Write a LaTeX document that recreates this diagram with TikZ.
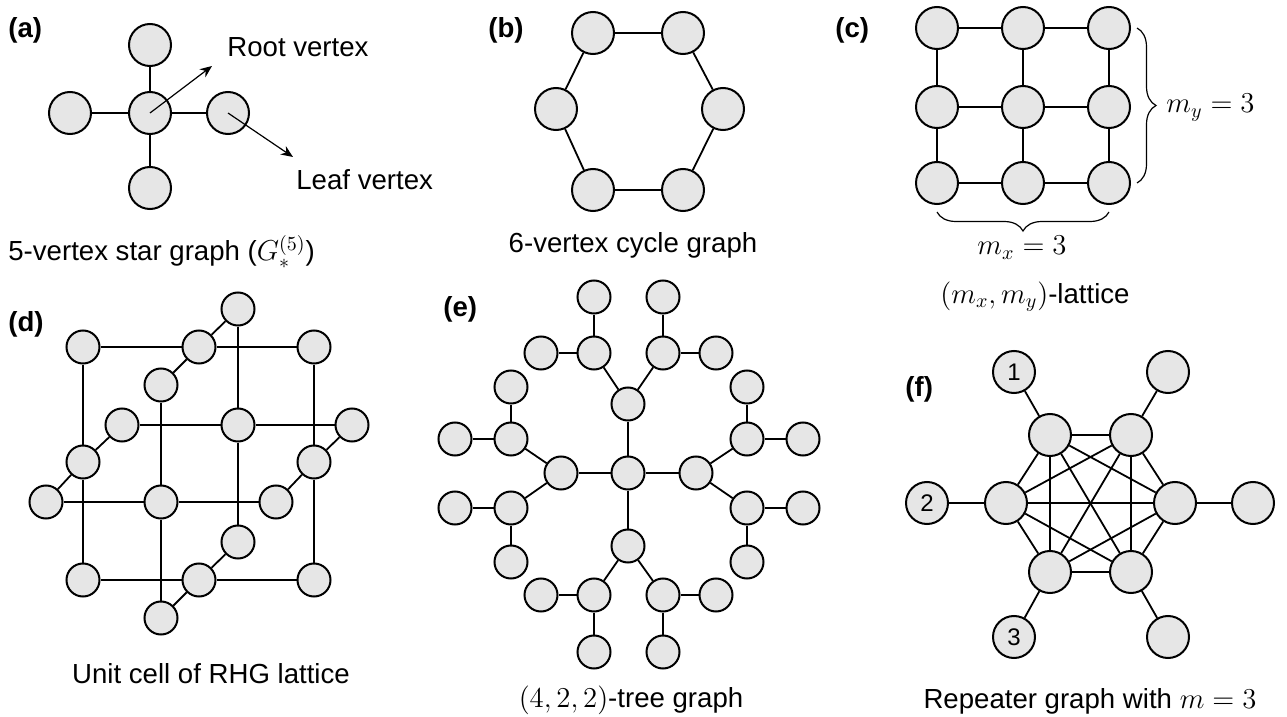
\documentclass[tikz,border=0pt]{standalone}
\usepackage{fontspec}
\setmainfont{Liberation Sans}
\usetikzlibrary{positioning, arrows.meta, decorations.pathreplacing, calc}
\definecolor{vfill}{HTML}{E6E6E6}
\tikzset{
  vtx/.style={circle, draw=black, fill=vfill, line width=1pt, inner sep=0pt, minimum size=21pt},
  svtx/.style={vtx, minimum size=16.5pt},
  edge/.style={line width=0.9pt},
  panel/.style={font=\fontsize{13.8}{16}\selectfont\bfseries, anchor=base west, inner sep=0pt},
  txt/.style={font=\fontsize{13.8}{16}\selectfont, inner sep=0pt, anchor=base},
  pointer/.style={line width=0.6pt, -{Stealth[length=6pt, width=5pt]}},
  bracket/.style={line width=0.6pt, decorate, decoration={brace, amplitude=9.5pt}},
}

\begin{document}
\begin{tikzpicture}[x=0.5pt, y=-0.5pt]
  \useasboundingbox (0,0) rectangle (1287,717);

  % (a) star graph
  \node[panel] (la) at (8,38) {(a)};
  \node[vtx] (root) at (150,113) {};
  \node[vtx] (aT) at (150,45) {};
  \node[vtx] (aB) at (150,188) {};
  \node[vtx] (aL) at (70,113) {};
  \node[vtx] (leaf) at (228,113) {};
  \foreach \v in {aT, aB, aL, leaf}
    \draw[edge] (root) -- (\v);
  \coordinate (rootend) at (212,66);
  \coordinate (leafend) at (293,157);
  \draw[pointer] (root.center) -- (rootend);
  \draw[pointer] (leaf.center) -- (leafend);
  \node[txt, anchor=base west] (troot) at (227,57) {Root vertex};
  \node[txt, anchor=base west] (tleaf) at (296,190) {Leaf vertex};
  \node[txt, anchor=base west] (ca) at (8,261) {5-vertex star graph ($G_*^{(5)}$)};

  % (b) cycle graph
  \node[panel] (lb) at (488,38) {(b)};
  \node[vtx] (b1) at (593,33) {};
  \node[vtx] (b2) at (683,33) {};
  \node[vtx] (b3) at (723,109) {};
  \node[vtx] (b4) at (683,190) {};
  \node[vtx] (b5) at (593,190) {};
  \node[vtx] (b6) at (556,109) {};
  \draw[edge] (b1) -- (b2) -- (b3) -- (b4) -- (b5) -- (b6) -- (b1);
  \node[txt] (cb) at (633,253) {6-vertex cycle graph};

  % (c) lattice
  \node[panel] (lc) at (835,38) {(c)};
  \foreach \i/\x in {1/937, 2/1023, 3/1109}
    \foreach \j/\y in {1/28, 2/107, 3/183}
      \node[vtx] (c\i\j) at (\x,\y) {};
  \foreach \i in {1,2,3} {
    \draw[edge] (c\i1) -- (c\i2) -- (c\i3);
    \draw[edge] (c1\i) -- (c2\i) -- (c3\i);
  }
  \coordinate (bry1) at (1137,28);
  \coordinate (bry2) at (1137,183);
  \coordinate (brx1) at (937,212);
  \coordinate (brx2) at (1109,212);
  \draw[bracket] (bry1) -- (bry2);
  \draw[bracket, decoration={mirror}] (brx1) -- (brx2);
  \node[txt, anchor=base west] (my) at (1166,113) {$m_y = 3$};
  \node[txt] (mx) at (1022,255) {$m_x = 3$};
  \node[txt] (cc) at (1035,303) {$(m_x, m_y)$-lattice};

  % (d) RHG unit cell
  \node[panel] (ld) at (8,331) {(d)};
  \node[svtx] (d1) at (83,347) {};
  \node[svtx] (d2) at (199,347) {};
  \node[svtx] (d3) at (314,347) {};
  \node[svtx] (d4) at (238,309) {};
  \node[svtx] (d5) at (161,385) {};
  \node[svtx] (d6) at (122,425) {};
  \node[svtx] (d7) at (238,425) {};
  \node[svtx] (d8) at (352,425) {};
  \node[svtx] (d9) at (83,462) {};
  \node[svtx] (d10) at (314,462) {};
  \node[svtx] (d11) at (46,502) {};
  \node[svtx] (d12) at (161,502) {};
  \node[svtx] (d13) at (276,502) {};
  \node[svtx] (d14) at (238,542) {};
  \node[svtx] (d15) at (83,580) {};
  \node[svtx] (d16) at (199,580) {};
  \node[svtx] (d17) at (314,580) {};
  \node[svtx] (d18) at (161,618) {};
  \draw[edge] (d1) -- (d2) -- (d3) -- (d10) -- (d17) -- (d16) -- (d15) -- (d9) -- (d1);
  \draw[edge] (d5) -- (d2) -- (d4);
  \draw[edge] (d11) -- (d9) -- (d6);
  \draw[edge] (d13) -- (d10) -- (d8);
  \draw[edge] (d18) -- (d16) -- (d14);
  \draw[edge] (d6) -- (d7) -- (d8);
  \draw[edge] (d11) -- (d12) -- (d13);
  \draw[edge] (d4) -- (d7) -- (d14);
  \draw[edge] (d5) -- (d12) -- (d18);
  \node[txt] (cd) at (211,683) {Unit cell of RHG lattice};

  % (e) tree graph
  \node[panel] (le) at (443,316) {(e)};
  \node[svtx] (e0) at (628,473) {};
  \node[svtx] (eT) at (628,404) {};
  \node[svtx] (eB) at (628,546) {};
  \node[svtx] (eL) at (561,473) {};
  \node[svtx] (eR) at (696,473) {};
  \node[svtx] (eT1) at (594,353) {};
  \node[svtx] (eT2) at (663,353) {};
  \node[svtx] (eB1) at (594,595) {};
  \node[svtx] (eB2) at (663,595) {};
  \node[svtx] (eL1) at (511,439) {};
  \node[svtx] (eL2) at (511,508) {};
  \node[svtx] (eR1) at (747,439) {};
  \node[svtx] (eR2) at (747,508) {};
  \node[svtx] (eT1a) at (541,353) {};
  \node[svtx] (eT1b) at (594,297) {};
  \node[svtx] (eT2a) at (716,353) {};
  \node[svtx] (eT2b) at (663,297) {};
  \node[svtx] (eB1a) at (541,595) {};
  \node[svtx] (eB1b) at (594,652) {};
  \node[svtx] (eB2a) at (716,595) {};
  \node[svtx] (eB2b) at (663,652) {};
  \node[svtx] (eL1a) at (455,439) {};
  \node[svtx] (eL1b) at (511,387) {};
  \node[svtx] (eL2a) at (455,508) {};
  \node[svtx] (eL2b) at (511,562) {};
  \node[svtx] (eR1a) at (803,439) {};
  \node[svtx] (eR1b) at (747,387) {};
  \node[svtx] (eR2a) at (803,508) {};
  \node[svtx] (eR2b) at (747,562) {};
  \foreach \s in {T, B, L, R} {
    \draw[edge] (e0) -- (e\s);
    \foreach \k in {1, 2} {
      \draw[edge] (e\s) -- (e\s\k);
      \draw[edge] (e\s\k) -- (e\s\k a);
      \draw[edge] (e\s\k) -- (e\s\k b);
    }
  }
  \node[txt] (ce) at (631,707) {$(4, 2, 2)$-tree graph};

  % (f) repeater graph
  \node[panel] (lf) at (905,396) {(f)};
  \node[vtx] (h1) at (1050,435) {};
  \node[vtx] (h2) at (1131,435) {};
  \node[vtx] (h3) at (1175,503) {};
  \node[vtx] (h4) at (1131,572) {};
  \node[vtx] (h5) at (1050,572) {};
  \node[vtx] (h6) at (1006,503) {};
  \node[vtx, font=\fontsize{12}{14}\selectfont] (o1) at (1014,372) {1};
  \node[vtx] (o2) at (1168,372) {};
  \node[vtx] (o3) at (1253,503) {};
  \node[vtx] (o4) at (1168,637) {};
  \node[vtx, font=\fontsize{12}{14}\selectfont] (o5) at (1014,637) {3};
  \node[vtx, font=\fontsize{12}{14}\selectfont] (o6) at (927,503) {2};
  \foreach \i in {1,...,5} {
    \pgfmathtruncatemacro\nxt{\i+1}
    \foreach \j in {\nxt,...,6}
      \draw[edge] (h\i) -- (h\j);
  }
  \foreach \i in {1,...,6}
    \draw[edge] (h\i) -- (o\i);
  \node[txt] (cf) at (1090,708) {Repeater graph with $m = 3$};
\end{tikzpicture}
\end{document}
